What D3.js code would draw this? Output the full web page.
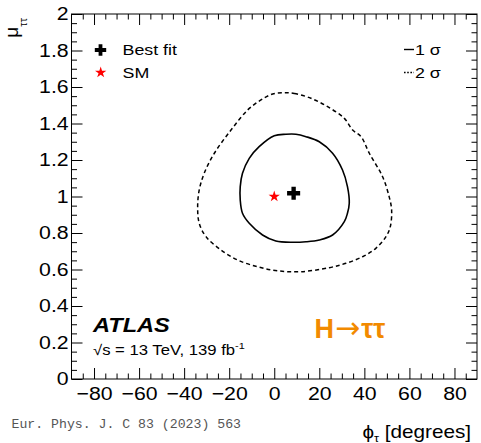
<!DOCTYPE html>
<html>
<head>
<meta charset="utf-8">
<script src="https://cdn.jsdelivr.net/npm/d3@7"></script>
<style>
  body { margin: 0; background: #fff; }
  text { font-family: "Liberation Sans", Arial, Helvetica, sans-serif; }
</style>
</head>
<body>
<div class="canvas"></div>
<script>
// 68% (1 sigma) contour
const sigma1Phi = [0, 5.2, 9.6, 14.1, 20, 25.9, 30.3, 32.5, 33.3, 32.5, 31.1, 25.9, 20, 14.1, 8.1, 0.7, -5.2, -11.1, -14.1, -15.1, -15.1, -14.1, -11.1, -6.7]
const sigma1Mu = [1.333, 1.341, 1.341, 1.328, 1.30, 1.237, 1.145, 1.054, 0.963, 0.908, 0.862, 0.789, 0.762, 0.752, 0.749, 0.756, 0.789, 0.853, 0.908, 0.981, 1.054, 1.127, 1.209, 1.273]

// 95% (2 sigma) contour
const sigma2Phi = [4.4, 8.9, 16.3, 23.7, 31.1, 34.8, 38.5, 42.2, 48.1, 51.0, 52.1, 51.5, 49.6, 45.1, 39.2, 31.8, 24.4, 11.9, 1.5, -7.4, -16.3, -23.7, -30.3, -33.3, -34.0, -33.3, -31.1, -26.6, -19.2, -11.8, -5.9, -0.7]
const sigma2Mu = [1.569, 1.565, 1.538, 1.492, 1.428, 1.364, 1.328, 1.237, 1.108, 0.999, 0.926, 0.834, 0.780, 0.716, 0.670, 0.634, 0.610, 0.588, 0.593, 0.615, 0.652, 0.707, 0.780, 0.853, 0.944, 1.036, 1.127, 1.237, 1.364, 1.474, 1.529, 1.562]

const bestFit = { phi: 8.6, mu: 1.018 }
const smPoint = { phi: 0, mu: 1 }

const xMajorTicks = [-80, -60, -40, -20, 0, 20, 40, 60, 80]
const yMajorTicks = [0, 0.2, 0.4, 0.6, 0.8, 1, 1.2, 1.4, 1.6, 1.8, 2]

const SX = 1.15 // the original figure is a bit stretched sideways

const svg = d3.select('.canvas')
  .append('svg')
  .attr('width', 481)
  .attr('height', 443)

svg.append('rect').attr('width', 481).attr('height', 443).attr('fill', '#fff')

const x = d3.scaleLinear().domain([-90, 90]).range([71.5, 477])
const y = d3.scaleLinear().domain([0, 2]).range([379, 14])

const xMinor = d3.range(-85, 90, 5).filter(v => v % 20 !== 0)
const yMinor = d3.range(1, 40).filter(i => i % 4 !== 0).map(i => i * 0.05)

const fmt = d3.format('~g')

// axes with inward ticks on all four sides
const addAxis = (axisFn, scale, pos, major, minor, labels) => {
  const g = svg.append('g').attr('transform', pos)
  g.call(axisFn(scale).tickValues(major).tickSize(-11).tickSizeOuter(0)
    .tickPadding(labels ? 7.5 : 0)
    .tickFormat(labels ? fmt : ''))
  g.append('g').call(axisFn(scale).tickValues(minor).tickSize(-5.5).tickSizeOuter(0).tickFormat(''))
  g.selectAll('.domain').remove()
  g.selectAll('line').attr('stroke', '#000').attr('stroke-width', 1)
  g.selectAll('text')
    .attr('fill', '#000')
    .style('font-size', '18.5px')
    .style('font-family', '"Liberation Sans", Arial, sans-serif')
  return g
}

addAxis(d3.axisBottom, x, 'translate(0,379)', xMajorTicks, xMinor, true)
addAxis(d3.axisTop, x, 'translate(0,14)', xMajorTicks, xMinor, false)
const yAxis = addAxis(d3.axisLeft, y, 'translate(71.5,0)', yMajorTicks, yMinor, true)
yAxis.selectAll('.tick text').attr('x', -2.5)
addAxis(d3.axisRight, y, 'translate(477,0)', yMajorTicks, yMinor, false)

svg.selectAll('.tick text').attr('transform', `scale(${SX},1)`)

// frame
svg.append('rect')
  .attr('x', 71.5).attr('y', 14)
  .attr('width', 477 - 71.5).attr('height', 379 - 14)
  .attr('fill', 'none').attr('stroke', '#000').attr('stroke-width', 1)

// contours
const contour = (phi, mu) => d3.line()
  .x(i => x(phi[i]))
  .y(i => y(mu[i]))
  .curve(d3.curveCatmullRomClosed.alpha(0.5))(d3.range(phi.length))

svg.append('path')
  .attr('d', contour(sigma2Phi, sigma2Mu))
  .attr('fill', 'none').attr('stroke', '#000')
  .attr('stroke-width', 1.5).attr('stroke-dasharray', '4,3')

svg.append('path')
  .attr('d', contour(sigma1Phi, sigma1Mu))
  .attr('fill', 'none').attr('stroke', '#000')
  .attr('stroke-width', 1.6)

// markers
svg.append('path')
  .attr('d', d3.symbol(d3.symbolStar, 40)())
  .attr('transform', `translate(${x(smPoint.phi)},${y(smPoint.mu)})`)
  .attr('fill', '#ff0000')

svg.append('path')
  .attr('d', d3.symbol(d3.symbolCross, 95)())
  .attr('transform', `translate(${x(bestFit.phi)},${y(bestFit.mu)})`)
  .attr('fill', '#000')

// stretched text helper
const label = (tx, ty, anchor) => svg.append('text')
  .attr('transform', `translate(${tx},${ty}) scale(${SX},1)`)
  .attr('text-anchor', anchor || 'start')

// legend (left)
svg.append('path')
  .attr('d', d3.symbol(d3.symbolCross, 72)())
  .attr('transform', 'translate(100.5,50)')
  .attr('fill', '#000')
label(122.5, 54.5).style('font-size', '15.5px').text('Best fit')

svg.append('path')
  .attr('d', d3.symbol(d3.symbolStar, 40)())
  .attr('transform', 'translate(100.7,72.5)')
  .attr('fill', '#ff0000')
label(122.5, 77.5).style('font-size', '15.5px').text('SM')

// legend (right)
svg.append('line')
  .attr('x1', 404).attr('x2', 414).attr('y1', 49.5).attr('y2', 49.5)
  .attr('stroke', '#000').attr('stroke-width', 1.4)
label(415, 55).style('font-size', '15.5px').text('1 σ')

svg.append('line')
  .attr('x1', 404).attr('x2', 414).attr('y1', 72.5).attr('y2', 72.5)
  .attr('stroke', '#000').attr('stroke-width', 1.4).attr('stroke-dasharray', '1.6,1.6')
label(415, 78).style('font-size', '15.5px').text('2 σ')

// ATLAS label
label(93, 332).style('font-size', '20.5px')
  .style('font-weight', 'bold').style('font-style', 'italic')
  .text('ATLAS')

const lumi = label(93, 354.5).style('font-size', '14.5px')
lumi.append('tspan').text('√s = 13 TeV, 139 fb')
lumi.append('tspan').attr('dy', -6).style('font-size', '9.5px').text('-1')

// process label
const proc = svg.append('text')
  .attr('x', 314.5).attr('y', 337.5)
  .style('font-size', '27px').style('font-weight', 'bold')
  .attr('fill', '#f28a00')
proc.append('tspan').text('H')
proc.append('tspan')
  .style('font-family', '"DejaVu Sans", sans-serif')
  .style('font-weight', 'normal')
  .style('font-size', '30px')
  .attr('dx', 1)
  .text('→')
proc.append('tspan').attr('dx', 1).text('ττ')

// axis titles
const xTitle = label(471, 437.5, 'end').style('font-size', '18px')
xTitle.append('tspan').text('ϕ')
xTitle.append('tspan').attr('dy', 4).style('font-size', '11px').text('τ')
xTitle.append('tspan').attr('dy', -4).text(' [degrees]')

const yTitle = svg.append('text')
  .attr('transform', 'translate(18,18) rotate(-90)')
  .attr('text-anchor', 'end')
  .style('font-size', '19px')
yTitle.append('tspan').text('μ')
yTitle.append('tspan').attr('dy', 9).style('font-size', '11px').text('ττ')

// journal reference
svg.append('text')
  .attr('x', 11.5).attr('y', 428)
  .style('font-family', '"Liberation Mono", "Courier New", monospace')
  .style('font-size', '13.2px')
  .attr('fill', '#555')
  .text('Eur. Phys. J. C 83 (2023) 563')
</script>
</body>
</html>
